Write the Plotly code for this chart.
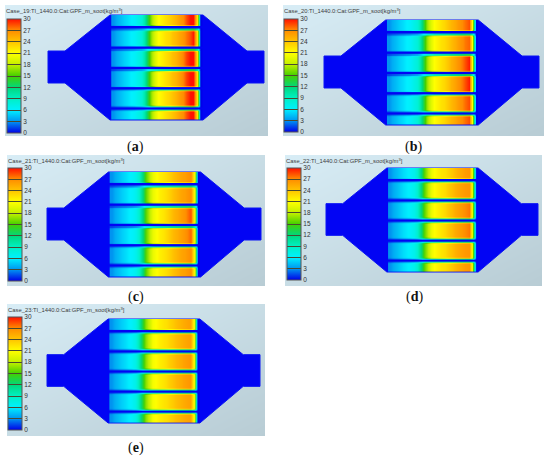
import plotly.graph_objects as go

# filter outline, in model units along/across the device
housing_x = [0, 17, 62, 155, 199, 216, 216, 199, 155, 62, 17, 0, 0]
housing_y = [36, 36, 0, 0, 36, 36, 68, 68, 105, 105, 68, 68, 36]

# stations along a channel where soot load was read (even steps, plotly 'best' smoothing shifts uneven ones)
station_x = [65, 68.5, 72, 75.5, 79, 82.5, 86, 89.5, 93, 96.5, 100, 103.5, 107, 110.5, 114, 117.5,
             121, 124.5, 128, 131.5, 135, 138.5, 142, 145.5, 149, 152.5]
channel_top = [0.5, 14, 34.3, 54.6, 74.9, 95]
channel_bottom = [10.8, 31, 51.3, 71.6, 91.7, 104.5]

# soot load kg/m3: front part shared by a case's channels, rear part per channel
front_19 = [3, 3.8, 4.4, 4.9, 5.4, 5.9, 6.3, 7, 8, 10, 14, 17, 19.5, 21, 21.8, 22.5]
front_20 = [3, 3.8, 4.4, 4.9, 5.4, 5.9, 6.3, 7, 8, 10, 14, 17, 19.5, 21, 21.8, 22.5]
front_21 = [3, 3.8, 4.4, 4.9, 5.4, 5.9, 6.3, 7, 8.5, 12, 15.5, 18, 20, 21, 21.8, 22.3]
front_22 = [3, 3.8, 4.4, 4.9, 5.4, 5.9, 6.3, 7, 8.5, 12, 15.5, 18, 20, 21, 21.8, 22.3]
front_23 = [3, 3.8, 4.4, 4.9, 5.4, 5.9, 6.3, 7.2, 9.5, 13.5, 16.5, 18.5, 20.5, 21.2, 21.8, 22.3]

rear_19 = [
    [23.3, 24, 25, 26, 27, 28.5, 30, 30, 22, 0],
    [23, 24, 24.8, 25.6, 26.5, 27.5, 28.5, 29.8, 22, 0],
    [23.3, 24.2, 25, 26, 27.3, 28.8, 30, 30, 22, 0],
    [23.3, 24.2, 25, 26, 27.3, 28.8, 30, 30, 22, 0],
    [23.2, 24, 25, 26, 27, 28.5, 30, 30, 22, 0],
    [23.3, 24, 25, 26, 27, 28.5, 30, 30, 22, 0],
]
rear_20 = [
    [23, 24, 24.8, 25.5, 26.3, 27, 27.7, 28.5, 21, 0],
    [22.8, 23.6, 24.4, 25.2, 26, 26.8, 27.5, 28, 21, 0],
    [23, 24, 25, 25.8, 26.6, 27.5, 28.5, 29.7, 21, 0],
    [23, 24, 25, 25.8, 26.6, 27.5, 28.5, 29.7, 21, 0],
    [22.8, 23.8, 24.6, 25.4, 26.2, 27, 27.8, 28.6, 21, 0],
    [23, 24, 24.8, 25.5, 26.3, 27, 27.7, 28.5, 21, 0],
]
rear_21 = [
    [22.8, 23.6, 24.3, 25, 25.6, 26, 26.5, 27, 20, 0],
    [22.8, 23.6, 24.3, 25, 25.6, 26, 26.5, 27, 20, 0],
    [23, 24, 24.8, 25.4, 26, 26.7, 27.6, 28.5, 20, 0],
    [23, 24, 24.7, 25.3, 25.9, 26.5, 27.2, 28, 20, 0],
    [22.8, 23.6, 24.3, 25, 25.6, 26, 26.5, 27, 20, 0],
    [22.8, 23.6, 24.3, 25, 25.6, 26, 26.5, 27, 20, 0],
]
rear_22 = [
    [22.6, 23.2, 23.9, 24.6, 25.2, 25.7, 26.2, 26.5, 20, 0],
    [22.8, 23.6, 24.3, 25, 25.5, 26, 26.3, 26.5, 20, 0],
    [23, 23.8, 24.6, 25.4, 25.9, 26.4, 27, 27.5, 20, 0],
    [23, 23.8, 24.6, 25.4, 25.9, 26.4, 27, 27.5, 20, 0],
    [22.8, 23.6, 24.3, 25, 25.5, 26, 26.3, 26.5, 20, 0],
    [22.6, 23.2, 23.9, 24.6, 25.2, 25.7, 26.2, 26.5, 20, 0],
]
rear_23 = [
    [22.6, 23.2, 23.8, 24.4, 24.9, 25.3, 25.7, 26, 20, 0],
    [22.6, 23.2, 23.8, 24.4, 24.9, 25.3, 25.7, 26, 20, 0],
    [22.8, 23.5, 24.2, 24.8, 25.3, 25.8, 26.2, 26.5, 20, 0],
    [22.8, 23.5, 24.2, 24.8, 25.3, 25.8, 26.2, 26.5, 20, 0],
    [22.6, 23.2, 23.8, 24.4, 24.9, 25.3, 25.7, 26, 20, 0],
    [22.6, 23.2, 23.8, 24.4, 24.9, 25.3, 25.7, 26, 20, 0],
]

case_names = ['Case_19', 'Case_20', 'Case_21', 'Case_22', 'Case_23']
case_tags = ['a', 'b', 'c', 'd', 'e']
case_fronts = [front_19, front_20, front_21, front_22, front_23]
case_rears = [rear_19, rear_20, rear_21, rear_22, rear_23]
scale_ticks = [0, 3, 6, 9, 12, 15, 18, 21, 24, 27, 30]
scale_colors = ['#0000e8', '#0094f0', '#00f0ff', '#00f0c4', '#00d87c', '#44d000',
                '#c4f000', '#ffff00', '#ffc400', '#ff8c00', '#ff1000']

W, H = 550, 457
# panel box l,r,t,b / housing l,r,t,b / colourbar l,t,b / caption x,y
panels = [
    ((5, 268, 5, 136), (48, 264, 15, 120), (7, 19, 133), (135, 147)),
    ((283, 544, 5, 136), (324, 539, 20, 125), (284, 19, 132), (413, 147)),
    ((7, 265, 155, 286), (47, 261, 172, 277), (8, 168, 281), (136, 297)),
    ((285, 542, 155, 286), (326, 538, 168, 272), (287, 168, 280), (414, 297)),
    ((7, 265, 304, 436), (47, 260, 319, 423), (8, 317, 430), (136, 448)),
]

colorscale = [[t / 30, c] for t, c in zip(scale_ticks, scale_colors)]
ROW_STEP = 1.0


def channel_rows(k):
    # rows across one channel, darker only next to a neighbouring channel
    top, bottom = channel_top[k], channel_bottom[k]
    m = round((bottom - top) / ROW_STEP) + 1
    ys = [top + j * (bottom - top) / (m - 1) for j in range(m)]
    factors = [1.0] * m
    if k > 0:
        factors[0], factors[1] = 0.45, 0.9
    if k < len(channel_top) - 1:
        factors[-1], factors[-2] = 0.45, 0.9
    return ys, factors


fig = go.Figure()
annotations = []
for i, (box, hous, cbar, cap) in enumerate(panels):
    n = i + 1
    top_n = n + 5
    ax = {'xaxis': f'x{n}', 'yaxis': f'y{n}'}
    # heatmaps always sit under scatter, so the channels get their own overlaid axes
    ax_top = {'xaxis': f'x{top_n}', 'yaxis': f'y{top_n}'}
    sx = 216 / (hous[1] - hous[0])
    sy = 105 / (hous[3] - hous[2])
    x_lo, x_hi = (box[0] - hous[0]) * sx, (box[1] - hous[0]) * sx
    y_lo, y_hi = (box[2] - hous[2]) * sy, (box[3] - hous[2]) * sy

    fig.add_trace(go.Heatmap(x=[x_lo, x_hi], y=[y_lo, y_hi], z=[[0, 1], [1, 2]], zsmooth='best',
                             colorscale=[[0, '#d8edf6'], [1, '#b8ccd4']], showscale=False,
                             hoverinfo='skip', **ax))
    fig.add_trace(go.Scatter(x=housing_x, y=housing_y, mode='lines', fill='toself',
                             fillcolor='#0204f4', line=dict(color='#0a14f5', width=1),
                             hoverinfo='skip', showlegend=False, **ax))
    for k, rear in enumerate(case_rears[i]):
        row = case_fronts[i] + rear
        ys, factors = channel_rows(k)
        z = [[v * f for v in row] for f in factors]
        trace = go.Heatmap(x=station_x, y=ys, z=z, zmin=0, zmax=30, zsmooth='best',
                           colorscale=colorscale, showscale=False, **ax_top)
        if k == 0:
            trace.showscale = True
            trace.colorbar = dict(
                x=cbar[0] / W, xanchor='left', xpad=0,
                y=1 - cbar[1] / H, yanchor='top', ypad=0,
                lenmode='pixels', len=cbar[2] - cbar[1],
                thicknessmode='pixels', thickness=14,
                tickmode='array', tickvals=scale_ticks,
                ticks='inside', ticklen=14, tickwidth=1, tickcolor='#4a4a30',
                tickfont=dict(family='Liberation Sans', size=6.5, color='#333333'),
                outlinecolor='#555555', outlinewidth=1, borderwidth=0)
        fig.add_trace(trace)

    hidden = dict(visible=False, showgrid=False, zeroline=False, fixedrange=True)
    fig.update_layout(**{
        f'xaxis{n}': dict(domain=[box[0] / W, box[1] / W], range=[x_lo, x_hi], anchor=f'y{n}', **hidden),
        f'yaxis{n}': dict(domain=[1 - box[3] / H, 1 - box[2] / H], range=[y_hi, y_lo], anchor=f'x{n}', **hidden),
        f'xaxis{top_n}': dict(range=[x_lo, x_hi], overlaying=f'x{n}', anchor=f'y{top_n}', **hidden),
        f'yaxis{top_n}': dict(range=[y_hi, y_lo], overlaying=f'y{n}', anchor=f'x{top_n}', **hidden),
    })
    annotations.append(dict(
        x=(box[0] - 1) / W, y=1 - (box[2] + 5.5) / H, xref='paper', yref='paper',
        xanchor='left', yanchor='middle', showarrow=False,
        text=f'{case_names[i]}:TI_1440.0:Cat:GPF_m_soot[kg/m<sup>3</sup>]',
        font=dict(family='Liberation Sans', size=5.85, color='#3c3c3c')))
    annotations.append(dict(
        x=cap[0] / W, y=1 - cap[1] / H, xref='paper', yref='paper',
        xanchor='center', yanchor='middle', showarrow=False,
        text=f'(<b>{case_tags[i]}</b>)',
        font=dict(family='Liberation Serif', size=14, color='#111111')))

fig.update_layout(width=W, height=H, margin=dict(l=0, r=0, t=0, b=0),
                  paper_bgcolor='white', plot_bgcolor='rgba(0,0,0,0)',
                  showlegend=False, annotations=annotations)

fig.write_html("out.html", post_script="document.body.style.margin='0';",
               config={'displayModeBar': False})
